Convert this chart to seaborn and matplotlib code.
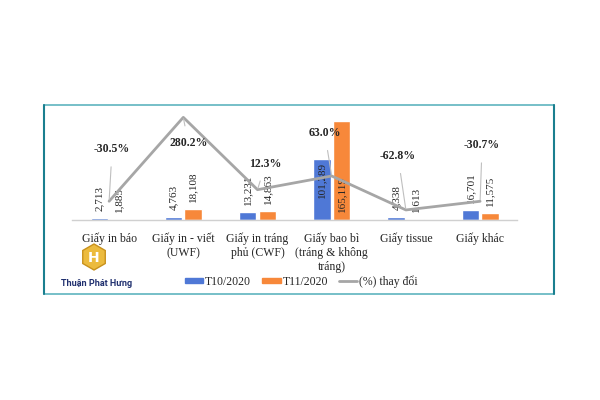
import numpy as np
import pandas as pd
import matplotlib
matplotlib.use('Agg')
import matplotlib.pyplot as plt
from matplotlib.lines import Line2D
from matplotlib.patches import Patch, RegularPolygon
import seaborn as sns

sns.set_theme(style='white')
plt.rcParams['font.family'] = ['Liberation Serif', 'DejaVu Serif']

# Data
categories = ['Giấy in báo', 'Giấy in - viết\n(UWF)', 'Giấy in tráng\nphủ (CWF)',
              'Giấy bao bì\n(tráng & không\ntráng)', 'Giấy tissue', 'Giấy khác']
t10 = [2713, 4763, 13231, 101289, 4338, 16701]
t11 = [1885, 18108, 14863, 165119, 1613, 11575]
pct_change = [-30.5, 280.2, 12.3, 63.0, -62.8, -30.7]
series_names = ['T10/2020', 'T11/2020']
line_name = '(%) thay đổi'

df = pd.DataFrame({'Loại': categories * 2,
                   'Kỳ': [series_names[0]] * 6 + [series_names[1]] * 6,
                   'Sản lượng': t10 + t11})

blue = '#4f78d6'
orange = '#f7883a'
grey = '#a6a6a6'

fig = plt.figure(figsize=(6, 4), dpi=100)
ax = fig.add_axes([0.12, 0.45, 0.742, 0.27])

sns.barplot(data=df, x='Loại', y='Sản lượng', hue='Kỳ', palette=[blue, orange],
            saturation=1, width=0.53, gap=0.12, ax=ax, legend=False)
ax.set_ylim(0, 180000)
ax.set_xlim(-0.5, len(categories) - 0.5)
ax.set_xlabel('')
ax.set_ylabel('')
ax.set_yticks([])
ax.tick_params(axis='x', length=0, pad=9, labelsize=8.5)
for s in ['top', 'left', 'right']:
    ax.spines[s].set_visible(False)
ax.spines['bottom'].set_color('#d0d0d0')
ax.spines['bottom'].set_linewidth(1)

# bar value labels
big = int(np.argmax(t11))
for cont, vals in zip(ax.containers, [t10, t11]):
    labels = [f'{v:,}' if i != big else '' for i, v in enumerate(vals)]
    ax.bar_label(cont, labels=labels, rotation=90, padding=5, fontsize=8)
# big group: labels placed inside the bars
for cont, vals, dy in zip(ax.containers, [t10, t11], [-3, -17]):
    bar = cont.patches[big]
    xc = bar.get_x() + bar.get_width() / 2
    ax.annotate(f'{vals[big]:,}', xy=(xc, t10[big]), xytext=(0, dy),
                textcoords='offset pixels', rotation=90, ha='center', va='top',
                fontsize=8)

# percentage line on secondary axis
ax2 = ax.twinx()
xpos = np.arange(len(categories))
sns.lineplot(x=xpos, y=pct_change, color=grey, linewidth=2, ax=ax2, legend=False)
ax2.set_ylim(-100, 300)
ax2.set_yticks([])
ax2.set_ylabel('')
for s in ax2.spines.values():
    s.set_visible(False)

offsets = [(3, 52), (5, -26), (8, 26), (-7, 43), (-8, 54), (2, 56)]
for x, v, off in zip(xpos, pct_change, offsets):
    ax2.annotate(f'{v:.1f}%', xy=(x, v), xytext=off, textcoords='offset pixels',
                 ha='center', va='center', fontsize=8.5, fontweight='bold',
                 arrowprops=dict(arrowstyle='-', color='#bfbfbf', lw=0.8,
                                 shrinkA=6, shrinkB=1))

# legend
handles = [Patch(color=blue), Patch(color=orange), Line2D([], [], color=grey, lw=2)]
fig.legend(handles, series_names + [line_name], loc='center', bbox_to_anchor=(0.502, 0.297),
           ncol=3, frameon=False, fontsize=8.5, handlelength=1.6, handleheight=0.35,
           columnspacing=0.9, handletextpad=0.15)

# frame around the chart
fig.add_artist(Line2D([44 / 600, 554 / 600], [1 - 105 / 400] * 2, color='#6bbac4', lw=1.3))
fig.add_artist(Line2D([44 / 600, 554 / 600], [1 - 294 / 400] * 2, color='#6bbac4', lw=1.3))
fig.add_artist(Line2D([44 / 600] * 2, [1 - 105 / 400, 1 - 294 / 400], color='#1a7f8f', lw=1.5))
fig.add_artist(Line2D([554 / 600] * 2, [1 - 105 / 400, 1 - 294 / 400], color='#1a7f8f', lw=1.5))

# logo
hexagon = RegularPolygon((0.94, 1.43), numVertices=6, radius=0.13, orientation=0,
                         transform=fig.dpi_scale_trans,
                         facecolor='#ecbb3e', edgecolor='#c8911c', lw=1)
fig.add_artist(hexagon)
fig.text(94 / 600, 1 - 258 / 400, 'H', ha='center', va='center', color='white',
         fontsize=10, fontweight='bold', family=['DejaVu Sans'])
fig.text(97 / 600, 1 - 283 / 400, 'Thuận Phát Hưng', ha='center', va='center',
         color='#1f2f6e', fontsize=6.5, fontweight='bold',
         family=['Liberation Sans Narrow', 'Roboto', 'DejaVu Sans'])

fig.savefig('out.png', dpi=100, facecolor='white')
